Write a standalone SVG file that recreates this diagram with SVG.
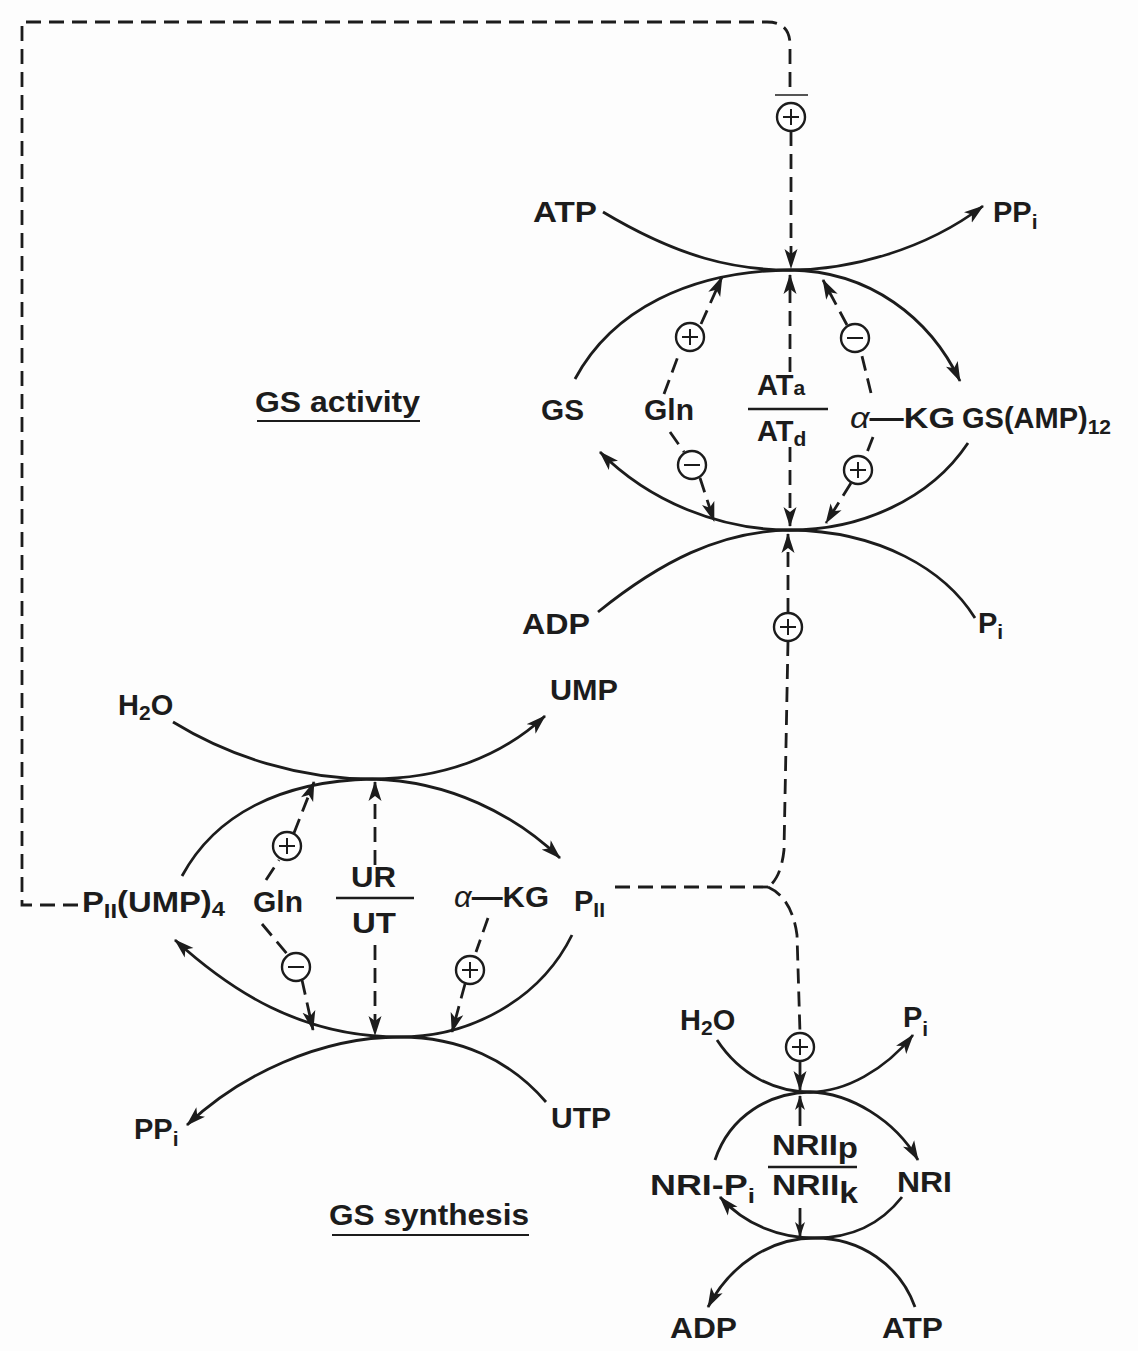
<svg xmlns="http://www.w3.org/2000/svg" width="1138" height="1351" viewBox="0 0 1138 1351">
<defs>
<style>
.t{font-family:"Liberation Sans",Arial,sans-serif;font-weight:bold;font-size:29px;fill:#1c1c1c}
.s{font-size:21px}
.i{font-style:italic;font-weight:normal}
.c{fill:none;stroke:#1c1c1c;stroke-width:2.8}
.d{fill:none;stroke:#1c1c1c;stroke-width:2.8;stroke-dasharray:15 8}
.o{fill:#fff;stroke:#1c1c1c;stroke-width:2.4}
.m{fill:none;stroke:#1c1c1c;stroke-width:2}
</style>
<marker id="ah" markerUnits="userSpaceOnUse" markerWidth="22" markerHeight="14" refX="19" refY="6.5" orient="auto" viewBox="0 0 22 13">
<path d="M0,0 L20,6.5 L0,13 L5,6.5 Z" fill="#1c1c1c"/>
</marker>
<marker id="as" markerUnits="userSpaceOnUse" markerWidth="16" markerHeight="11" refX="14" refY="5" orient="auto" viewBox="0 0 16 10">
<path d="M0,0 L15,5 L0,10 L4,5 Z" fill="#1c1c1c"/>
</marker>
<g id="plusSym"><circle class="o" r="14"/><path class="m" d="M-8,0 H8 M0,-8 V8"/></g>
<g id="minusSym"><circle class="o" r="14"/><path class="m" d="M-8,0 H8"/></g>
</defs>
<rect width="1138" height="1351" fill="#fdfdfd"/>

<g id="connectors">
<!-- feedback loop -->
<path class="d" d="M78,905 L22,905 L22,22 L767,22 Q790,22 790,45 L790,92"/>
<path d="M775,95 L808,95" stroke="#1c1c1c" stroke-width="1.5"/>
<path class="d" d="M791,131 L791,268" marker-end="url(#ah)"/>

<!-- GS activity cycle -->
<path class="c" d="M603,212 C680,258 735,270 790,270 C850,270 925,250 983,206" marker-end="url(#ah)"/>
<path class="c" d="M575,379 C612,310 690,271 790,270 C870,271 930,318 960,381" marker-end="url(#ah)"/>
<path class="c" d="M968,443 C930,500 860,530 790,530 C720,530 650,502 600,452" marker-end="url(#ah)"/>
<path class="c" d="M598,612 C660,562 720,531 790,530 C880,531 945,570 975,618"/>
<path class="d" d="M664,394 L680,351"/>
<path class="d" d="M701,324 L722,277" marker-end="url(#ah)"/>
<path class="d" d="M871,393 L861,352"/>
<path class="d" d="M847,325 L823,280" marker-end="url(#ah)"/>
<path class="d" d="M790,372 L790,275" marker-end="url(#ah)"/>
<path class="d" d="M670,432 L684,452"/>
<path class="d" d="M700,478 L714,521" marker-end="url(#ah)"/>
<path class="d" d="M873,437 L866,455"/>
<path class="d" d="M851,483 L826,523" marker-end="url(#ah)"/>
<path class="d" d="M790,447 L790,526" marker-end="url(#ah)"/>
<path class="d" d="M788,613 L788,534" marker-end="url(#ah)"/>

<!-- PII signal lines -->
<path class="d" d="M788,641 L784,850 Q781,878 768,887"/>
<path class="d" d="M615,887 L768,887"/>
<path class="d" d="M768,887 Q792,898 797,935 L800,1033"/>
<path class="d" d="M800,1061 L800,1090" marker-end="url(#ah)"/>

<!-- GS synthesis (UT/UR) cycle -->
<path class="c" d="M173,722 C230,757 300,779 372,779 C440,779 500,758 545,716" marker-end="url(#ah)"/>
<path class="c" d="M182,876 C215,815 280,781 372,779 C450,781 515,815 560,858" marker-end="url(#ah)"/>
<path class="c" d="M572,935 C540,1000 470,1037 400,1037 C300,1037 230,990 175,940" marker-end="url(#ah)"/>
<path class="c" d="M546,1102 C510,1060 460,1037 400,1037 C320,1037 240,1075 187,1125" marker-end="url(#ah)"/>
<path class="d" d="M266,880 L279,860"/>
<path class="d" d="M294,833 L314,782" marker-end="url(#ah)"/>
<path class="d" d="M375,865 L375,782" marker-end="url(#ah)"/>
<path class="d" d="M262,924 L288,955"/>
<path class="d" d="M302,980 L313,1030" marker-end="url(#ah)"/>
<path class="d" d="M375,945 L375,1035" marker-end="url(#ah)"/>
<path class="d" d="M488,918 L476,952"/>
<path class="d" d="M465,984 L452,1032" marker-end="url(#ah)"/>

<!-- NRI cycle -->
<path class="c" d="M717,1040 C740,1075 775,1092 810,1092 C845,1092 885,1070 913,1035" marker-end="url(#ah)"/>
<path class="c" d="M715,1160 C730,1115 770,1093 810,1092 C850,1093 895,1120 918,1160" marker-end="url(#ah)"/>
<path class="c" d="M902,1197 C880,1225 850,1238 815,1238 C780,1238 745,1225 720,1197" marker-end="url(#ah)"/>
<path class="c" d="M915,1307 C900,1265 860,1238 815,1238 C770,1238 730,1265 708,1307" marker-end="url(#ah)"/>
<path class="c" d="M800,1126 L800,1096" marker-end="url(#as)"/>
<path class="c" d="M800,1208 L800,1236" marker-end="url(#as)"/>
</g>

<g id="effectors">
<use id="fb-top-plus" href="#plusSym" x="791" y="117"/>
<use id="gln-plus-a" href="#plusSym" x="690" y="337"/>
<use id="akg-minus-a" href="#minusSym" x="855" y="338"/>
<use id="gln-minus-a" href="#minusSym" x="692" y="465"/>
<use id="akg-plus-a" href="#plusSym" x="858" y="470"/>
<use id="pii-plus-a" href="#plusSym" x="788" y="627"/>
<use id="gln-plus-s" href="#plusSym" x="287" y="846"/>
<use id="gln-minus-s" href="#minusSym" x="296" y="967"/>
<use id="akg-plus-s" href="#plusSym" x="470" y="970"/>
<use id="pii-plus-n" href="#plusSym" x="800" y="1047"/>
</g>

<g id="gs-activity-cycle">
<g id="n-atp"><text class="t" x="533" y="222" textLength="64" lengthAdjust="spacingAndGlyphs">ATP</text></g>
<g id="n-ppi-a"><text class="t" x="993" y="222">PP<tspan class="s" dy="7">i</tspan></text></g>
<g id="n-gs"><text class="t" x="541" y="420" textLength="43" lengthAdjust="spacingAndGlyphs">GS</text></g>
<g id="n-gln-a"><text class="t" x="644" y="420" textLength="50" lengthAdjust="spacingAndGlyphs">Gln</text></g>
<g id="n-at">
<text class="t" x="757" y="395">AT<tspan class="s" dy="0">a</tspan></text>
<path d="M748,409 H828" stroke="#1c1c1c" stroke-width="2.4"/>
<text class="t" x="757" y="441">AT<tspan class="s" dy="5">d</tspan></text>
</g>
<g id="n-akg-a"><text class="t" x="850" y="428" textLength="105" lengthAdjust="spacingAndGlyphs"><tspan class="i">α</tspan>—KG</text></g>
<g id="n-gsamp"><text class="t" x="962" y="428">GS(AMP)<tspan class="s" dy="6">12</tspan></text></g>
<g id="n-gsact-label"><text class="t" x="255" y="412" textLength="165" lengthAdjust="spacingAndGlyphs">GS activity</text>
<path d="M257,421 H420" stroke="#1c1c1c" stroke-width="2.2"/></g>
<g id="n-adp-a"><text class="t" x="522" y="634" textLength="68" lengthAdjust="spacingAndGlyphs">ADP</text></g>
<g id="n-pi-a"><text class="t" x="978" y="633">P<tspan class="s" dy="6">i</tspan></text></g>
</g>

<g id="gs-synthesis-cycle">
<g id="n-h2o-s"><text class="t" x="118" y="715">H<tspan class="s" dy="5">2</tspan><tspan dy="-5">O</tspan></text></g>
<g id="n-ump"><text class="t" x="550" y="700" textLength="68" lengthAdjust="spacingAndGlyphs">UMP</text></g>
<g id="n-piiump"><text class="t" x="82" y="912" textLength="143" lengthAdjust="spacingAndGlyphs">P<tspan class="s" dy="6">II</tspan><tspan dy="-6">(UMP)</tspan><tspan class="s" dy="4">4</tspan></text></g>
<g id="n-gln-s"><text class="t" x="253" y="912" textLength="50" lengthAdjust="spacingAndGlyphs">Gln</text></g>
<g id="n-urut">
<text class="t" x="351" y="887" textLength="45" lengthAdjust="spacingAndGlyphs">UR</text>
<path d="M336,898 H414" stroke="#1c1c1c" stroke-width="2.4"/>
<text class="t" x="352" y="933" textLength="44" lengthAdjust="spacingAndGlyphs">UT</text>
</g>
<g id="n-akg-s"><text class="t" x="454" y="907" textLength="95" lengthAdjust="spacingAndGlyphs"><tspan class="i">α</tspan>—KG</text></g>
<g id="n-pii"><text class="t" x="574" y="911">P<tspan class="s" dy="6">II</tspan></text></g>
<g id="n-ppi-s"><text class="t" x="134" y="1139">PP<tspan class="s" dy="7">i</tspan></text></g>
<g id="n-utp"><text class="t" x="551" y="1128" textLength="60" lengthAdjust="spacingAndGlyphs">UTP</text></g>
<g id="n-gssyn-label"><text class="t" x="329" y="1225" textLength="200" lengthAdjust="spacingAndGlyphs">GS synthesis</text>
<path d="M332,1235 H529" stroke="#1c1c1c" stroke-width="2.2"/></g>
</g>

<g id="nri-cycle">
<g id="n-h2o-n"><text class="t" x="680" y="1030">H<tspan class="s" dy="5">2</tspan><tspan dy="-5">O</tspan></text></g>
<g id="n-pi-n"><text class="t" x="903" y="1027">P<tspan class="s" dy="9">i</tspan></text></g>
<g id="n-nripi"><text class="t" x="650" y="1195" textLength="105" lengthAdjust="spacingAndGlyphs">NRI-P<tspan class="s" dy="8">i</tspan></text></g>
<g id="n-nrii">
<text class="t" x="772" y="1155" textLength="86" lengthAdjust="spacingAndGlyphs">NRII<tspan dy="3">p</tspan></text>
<path d="M768,1167 H857" stroke="#1c1c1c" stroke-width="2.4"/>
<text class="t" x="772" y="1195" textLength="86" lengthAdjust="spacingAndGlyphs">NRII<tspan dy="8">k</tspan></text>
</g>
<g id="n-nri"><text class="t" x="897" y="1192" textLength="55" lengthAdjust="spacingAndGlyphs">NRI</text></g>
<g id="n-adp-n"><text class="t" x="670" y="1338" textLength="67" lengthAdjust="spacingAndGlyphs">ADP</text></g>
<g id="n-atp-n"><text class="t" x="882" y="1338" textLength="61" lengthAdjust="spacingAndGlyphs">ATP</text></g>
</g>
</svg>
